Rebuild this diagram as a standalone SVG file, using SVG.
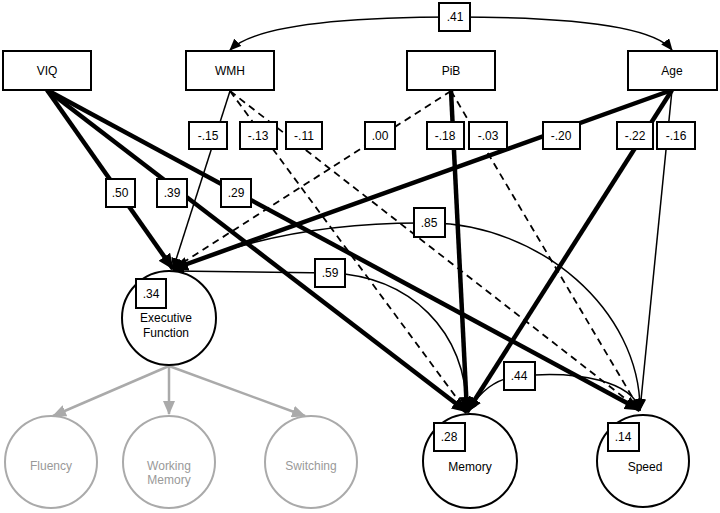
<svg xmlns="http://www.w3.org/2000/svg" width="720" height="513" viewBox="0 0 720 513">
<style>
.node rect{fill:#fff;stroke:#000;stroke-width:2}
.node text,.lab text{font-family:"Liberation Sans",Arial,sans-serif;font-size:12px;text-anchor:middle;fill:#000}
.lat circle{fill:#fff;stroke:#000;stroke-width:2}
.gray circle{fill:#fff;stroke:#aaa;stroke-width:2}
.gray text{fill:#999}
.lab rect{fill:#fff;stroke:#000;stroke-width:2}
.thick{stroke:#000;stroke-width:4.5;fill:none;marker-end:url(#ahL)}
.thin{stroke:#000;stroke-width:1.5;fill:none;marker-end:url(#ahS)}
.dash{stroke:#000;stroke-width:1.8;fill:none;stroke-dasharray:7 5;marker-end:url(#ahS)}
.cov{stroke:#000;stroke-width:1.5;fill:none;marker-start:url(#ahS);marker-end:url(#ahS)}
.garr{stroke:#aaa;stroke-width:2.5;fill:none;marker-end:url(#ahG)}
</style>
<defs>
<marker id="ahL" markerUnits="userSpaceOnUse" viewBox="0 0 16 14" refX="15" refY="7" markerWidth="16" markerHeight="14" orient="auto-start-reverse"><path d="M0,0 L16,7 L0,14 z" fill="#000"/></marker>
<marker id="ahS" markerUnits="userSpaceOnUse" viewBox="0 0 12 10" refX="11" refY="5" markerWidth="12" markerHeight="10" orient="auto-start-reverse"><path d="M0,0 L12,5 L0,10 z" fill="#000"/></marker>
<marker id="ahG" markerUnits="userSpaceOnUse" viewBox="0 0 14 12" refX="13" refY="6" markerWidth="14" markerHeight="12" orient="auto-start-reverse"><path d="M0,0 L14,6 L0,12 z" fill="#aaa"/></marker>
</defs>
<rect width="720" height="513" fill="#fff"/>
<g id="connectors">
<path class="cov" d="M230,50 C260,20 380,17 455,17 C540,17 650,22 672,50"/>
<line class="thick" x1="47" y1="90" x2="173" y2="269"/>
<line class="thin" x1="230" y1="91" x2="173" y2="269"/>
<line class="dash" x1="451" y1="91" x2="173" y2="269"/>
<line class="thick" x1="672" y1="90" x2="173" y2="269"/>
<line class="thick" x1="47" y1="90" x2="467" y2="412"/>
<line class="dash" x1="230" y1="91" x2="467" y2="412"/>
<line class="thick" x1="451" y1="91" x2="467" y2="412"/>
<line class="thick" x1="672" y1="90" x2="467" y2="412"/>
<line class="thick" x1="47" y1="90" x2="640" y2="410"/>
<line class="dash" x1="230" y1="91" x2="640" y2="410"/>
<line class="dash" x1="451" y1="91" x2="640" y2="410"/>
<line class="thin" x1="672" y1="90" x2="640" y2="410"/>
<path class="cov" d="M173,270 C260,232 350,222 430,223 C540,224 640,310 640,410"/>
<path class="cov" d="M173,271 L330,273 C410,276 466,330 467,412"/>
<path class="cov" d="M467,412 C480,392 495,378 519,376 C580,370 632,382 640,410"/>
<line class="garr" x1="169" y1="366" x2="53" y2="416"/>
<line class="garr" x1="169" y1="366" x2="169" y2="414"/>
<line class="garr" x1="169" y1="366" x2="305" y2="416"/>
</g>
<g class="lab" id="labels">
<rect x="439" y="3" width="31" height="28"/><text x="455" y="21">.41</text>
<rect x="189" y="122" width="38" height="27"/><text x="208" y="140">-.15</text>
<rect x="240" y="122" width="37" height="27"/><text x="258" y="140">-.13</text>
<rect x="286" y="122" width="36" height="27"/><text x="304" y="140">-.11</text>
<rect x="365" y="122" width="30" height="27"/><text x="380" y="140">.00</text>
<rect x="427" y="122" width="37" height="27"/><text x="445" y="140">-.18</text>
<rect x="469" y="122" width="38" height="27"/><text x="488" y="140">-.03</text>
<rect x="543" y="122" width="37" height="27"/><text x="561" y="140">-.20</text>
<rect x="617" y="122" width="36" height="27"/><text x="635" y="140">-.22</text>
<rect x="657" y="122" width="38" height="27"/><text x="676" y="140">-.16</text>
<rect x="106" y="179" width="29" height="28"/><text x="120" y="197">.50</text>
<rect x="157" y="179" width="30" height="28"/><text x="172" y="197">.39</text>
<rect x="221" y="179" width="30" height="28"/><text x="236" y="197">.29</text>
<rect x="414" y="208" width="31" height="29"/><text x="429" y="227">.85</text>
<rect x="315" y="259" width="30" height="28"/><text x="330" y="277">.59</text>
<rect x="504" y="362" width="31" height="28"/><text x="519" y="380">.44</text>
</g>
<g class="node" id="VIQ"><rect x="3" y="51" width="88" height="39"/><text x="47" y="75">VIQ</text></g>
<g class="node" id="WMH"><rect x="186" y="51" width="88" height="39"/><text x="230" y="75">WMH</text></g>
<g class="node" id="PiB"><rect x="407" y="51" width="88" height="39"/><text x="451" y="75">PiB</text></g>
<g class="node" id="Age"><rect x="628" y="51" width="89" height="39"/><text x="672" y="75">Age</text></g>
<g class="node lat" id="ExecutiveFunction"><circle cx="169" cy="318" r="47"/><text x="166" y="322">Executive</text><text x="166" y="337">Function</text><rect x="136" y="279" width="30" height="29"/><text x="151" y="298">.34</text></g>
<g class="node lat" id="Memory"><circle cx="470" cy="461" r="47"/><text x="470" y="471">Memory</text><rect x="434" y="423" width="31" height="28"/><text x="449" y="441">.28</text></g>
<g class="node lat" id="Speed"><circle cx="643" cy="461" r="46"/><text x="645" y="471">Speed</text><rect x="608" y="423" width="31" height="28"/><text x="623" y="441">.14</text></g>
<g class="node gray" id="Fluency"><circle cx="51" cy="462" r="46"/><text x="51" y="470">Fluency</text></g>
<g class="node gray" id="WorkingMemory"><circle cx="169" cy="462" r="46"/><text x="169" y="470">Working</text><text x="169" y="484">Memory</text></g>
<g class="node gray" id="Switching"><circle cx="311" cy="462" r="46"/><text x="311" y="470">Switching</text></g>
</svg>
